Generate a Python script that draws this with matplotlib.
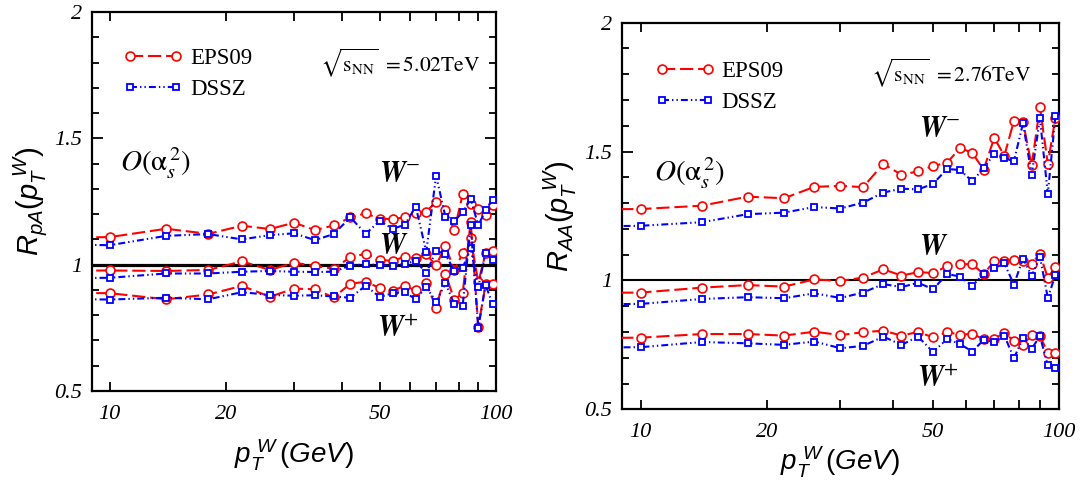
import matplotlib
matplotlib.use("Agg")
import matplotlib.pyplot as plt
from matplotlib.ticker import FixedLocator, NullFormatter, FixedFormatter, MultipleLocator

plt.rcParams['lines.scale_dashes'] = False
plt.rcParams['mathtext.fontset'] = 'custom'
plt.rcParams['mathtext.rm'] = 'Liberation Sans'
plt.rcParams['mathtext.it'] = 'Liberation Sans:italic'
plt.rcParams['mathtext.bf'] = 'Liberation Sans:bold'

# ---------------- data ----------------
pt_W = [6, 10, 14, 18, 22, 26, 30, 34, 38, 42, 46, 50, 54, 58, 62, 66, 70, 74, 78, 82, 86, 90, 94, 98]

# p+Pb, sqrt(s_NN) = 5.02 TeV
pA_Wm_EPS09 = [1.105, 1.109, 1.142, 1.122, 1.154, 1.141, 1.166, 1.137, 1.155, 1.187, 1.203, 1.181, 1.181,
               1.187, 1.204, 1.210, 1.248, 1.218, 1.136, 1.278, 1.239, 1.221, 1.195, 1.236]
pA_Wm_DSSZ = [1.082, 1.077, 1.114, 1.121, 1.100, 1.117, 1.124, 1.097, 1.121, 1.187, 1.122, 1.173, 1.142,
              1.157, 1.230, 1.051, 1.352, 1.189, 1.173, 1.207, 1.259, 1.156, 1.215, 1.257]
pA_W_EPS09 = [0.975, 0.977, 0.975, 0.979, 1.013, 0.979, 1.008, 0.995, 0.984, 1.030, 1.043, 1.019, 1.015,
              1.031, 1.025, 1.041, 0.997, 1.075, 0.977, 1.045, 1.104, 0.930, 1.045, 1.055]
pA_W_DSSZ = [0.945, 0.948, 0.965, 0.965, 0.972, 0.975, 0.972, 0.971, 0.972, 0.996, 1.002, 0.998, 0.995,
             1.003, 1.015, 0.966, 1.056, 1.041, 0.975, 0.988, 1.065, 0.910, 1.048, 1.019]
pA_Wp_EPS09 = [0.890, 0.887, 0.863, 0.882, 0.916, 0.873, 0.905, 0.903, 0.870, 0.925, 0.932, 0.908, 0.897,
               0.916, 0.898, 0.927, 0.830, 0.963, 0.862, 0.886, 1.170, 0.755, 0.922, 0.922]
pA_Wp_DSSZ = [0.865, 0.862, 0.869, 0.863, 0.891, 0.880, 0.877, 0.879, 0.874, 0.869, 0.917, 0.872, 0.887,
              0.890, 0.864, 0.911, 0.853, 0.926, 0.844, 0.837, 1.155, 0.750, 0.920, 0.843]

# Pb+Pb, sqrt(s_NN) = 2.76 TeV
AA_Wm_EPS09 = [1.275, 1.277, 1.290, 1.325, 1.319, 1.363, 1.367, 1.362, 1.452, 1.410, 1.423, 1.444, 1.457,
               1.514, 1.495, 1.430, 1.553, 1.484, 1.619, 1.615, 1.446, 1.674, 1.451, 1.632]
AA_Wm_DSSZ = [1.208, 1.212, 1.226, 1.257, 1.263, 1.285, 1.279, 1.302, 1.341, 1.356, 1.353, 1.375, 1.433,
              1.428, 1.385, 1.435, 1.492, 1.474, 1.463, 1.610, 1.408, 1.629, 1.336, 1.637]
AA_W_EPS09 = [0.950, 0.953, 0.972, 0.982, 0.976, 1.004, 0.998, 1.011, 1.043, 1.019, 1.032, 1.029, 1.055,
              1.063, 1.063, 1.025, 1.074, 1.077, 1.079, 1.075, 1.064, 1.104, 1.009, 1.053]
AA_W_DSSZ = [0.905, 0.909, 0.928, 0.935, 0.931, 0.950, 0.932, 0.953, 0.986, 0.974, 0.991, 0.966, 1.025,
             1.015, 0.979, 1.025, 1.047, 1.066, 0.984, 1.085, 1.017, 1.092, 0.932, 1.021]
AA_Wp_EPS09 = [0.775, 0.778, 0.792, 0.792, 0.786, 0.801, 0.788, 0.799, 0.805, 0.786, 0.800, 0.779, 0.800,
               0.789, 0.793, 0.772, 0.774, 0.796, 0.766, 0.750, 0.788, 0.785, 0.719, 0.719]
AA_Wp_DSSZ = [0.738, 0.741, 0.761, 0.756, 0.750, 0.763, 0.737, 0.746, 0.782, 0.750, 0.782, 0.722, 0.773,
              0.753, 0.724, 0.769, 0.762, 0.786, 0.698, 0.776, 0.735, 0.784, 0.670, 0.662]

legend_labels = ["EPS09", "DSSZ"]
x_tick_values = [10, 20, 50, 100]
x_tick_labels = ["10", "20", "50", "100"]
y_tick_values = [0.5, 1.0, 1.5, 2.0]
y_tick_labels = ["0.5", "1", "1.5", "2"]

# ---------------- styling ----------------
RED = '#ff0000'
BLUE = '#0000ff'
red_style = dict(color=RED, lw=1.5, dashes=(9.5, 3.5), marker='o', ms=6.4, mfc='white',
                 mec=RED, mew=1.2)
blue_style = dict(color=BLUE, lw=1.5, dashes=(5, 2.2, 1, 2.2, 1, 2.2), marker='s', ms=4.6,
                  mfc='white', mec=BLUE, mew=1.3)

tickfont = dict(family='Liberation Serif', style='italic', size=16)

fig = plt.figure(figsize=(10.81, 4.83), dpi=100)
axL = fig.add_axes([0.0851, 0.1905, 0.3737, 0.7847])
axR = fig.add_axes([0.5751, 0.1526, 0.4046, 0.8004])


def setup(ax, hline_lw):
    ax.set_xscale('log')
    ax.set_xlim(9, 100)
    ax.set_ylim(0.5, 2.0)
    ax.axhline(1.0, color='black', lw=hline_lw, zorder=1)
    ax.xaxis.set_major_locator(FixedLocator(x_tick_values))
    ax.xaxis.set_major_formatter(FixedFormatter(x_tick_labels))
    ax.xaxis.set_minor_locator(FixedLocator([30, 40, 60, 70, 80, 90]))
    ax.xaxis.set_minor_formatter(NullFormatter())
    ax.yaxis.set_major_locator(FixedLocator(y_tick_values))
    ax.yaxis.set_major_formatter(FixedFormatter(y_tick_labels))
    ax.yaxis.set_minor_locator(MultipleLocator(0.1))
    ax.tick_params(axis='both', which='both', direction='in', top=True, right=True, width=1.3)
    ax.tick_params(axis='y', which='major', length=8, pad=7)
    ax.tick_params(axis='y', which='minor', length=5)
    ax.tick_params(axis='x', which='both', length=6.5, pad=10)
    for lab in ax.get_xticklabels() + ax.get_yticklabels():
        lab.set_fontfamily(tickfont['family'])
        lab.set_fontstyle(tickfont['style'])
        lab.set_fontsize(tickfont['size'])
    for sp in ax.spines.values():
        sp.set_linewidth(1.6)


def draw(ax, series):
    handles = []
    for (ye, yd) in series:
        he, = ax.plot(pt_W, ye, zorder=3, **red_style)
        hd, = ax.plot(pt_W, yd, zorder=4, **blue_style)
        handles.append((he, hd))
    return handles[0]


setup(axL, 2.3)
setup(axR, 1.5)

hL = draw(axL, [(pA_Wm_EPS09, pA_Wm_DSSZ), (pA_W_EPS09, pA_W_DSSZ), (pA_Wp_EPS09, pA_Wp_DSSZ)])
hR = draw(axR, [(AA_Wm_EPS09, AA_Wm_DSSZ), (AA_W_EPS09, AA_W_DSSZ), (AA_Wp_EPS09, AA_Wp_DSSZ)])

for ax, h, anchor in [(axL, hL, (0.055, 0.93)), (axR, hR, (0.055, 0.925))]:
    ax.legend(list(h), legend_labels, loc='upper left', bbox_to_anchor=anchor,
              frameon=False, numpoints=2, handlelength=2.6, handletextpad=0.3,
              labelspacing=0.45, borderaxespad=0,
              prop=dict(family='Liberation Serif', size=16.5))

# text annotations
serif = 'Liberation Serif'
axL.text(0.565, 0.866, r'$\sqrt{\mathrm{s_{NN}}}\ = 5.02\mathrm{TeV}$', transform=axL.transAxes,
         fontsize=15.5, math_fontfamily='stix', va='center', ha='left')
axR.text(0.57, 0.87, r'$\sqrt{\mathrm{s_{NN}}}\ = 2.76\mathrm{TeV}$', transform=axR.transAxes,
         fontsize=15.5, math_fontfamily='stix', va='center', ha='left')

axL.text(0.07, 0.6, r'$O(\mathrm{\alpha}_s^{\,2})$', transform=axL.transAxes, fontsize=21,
         math_fontfamily='stix', va='center', ha='left')
axR.text(0.075, 0.61, r'$O(\mathrm{\alpha}_s^{\,2})$', transform=axR.transAxes, fontsize=21,
         math_fontfamily='stix', va='center', ha='left')

for ax, pos in [(axL, [(0.71, 0.575, r'$\boldsymbol{W}^{-}$'), (0.71, 0.383, r'$\boldsymbol{W}$'),
                       (0.705, 0.166, r'$\boldsymbol{W}^{+}$')]),
                (axR, [(0.68, 0.727, r'$\boldsymbol{W}^{-}$'), (0.68, 0.42, r'$\boldsymbol{W}$'),
                       (0.675, 0.08, r'$\boldsymbol{W}^{+}$')])]:
    for (xx, yy, s) in pos:
        ax.text(xx, yy, s, transform=ax.transAxes, fontsize=21, family=serif,
                fontweight='bold', fontstyle='italic', math_fontfamily='stix',
                va='center', ha='left')

axL.set_ylabel(r'$R_{pA}(p_T^{\ W})$', fontsize=21, labelpad=4)
axR.set_ylabel(r'$R_{AA}(p_T^{\ W})$', fontsize=21, labelpad=4)
axL.set_xlabel(r'$p_T^{\ W}\,(GeV)$', fontsize=20, labelpad=10)
axR.set_xlabel(r'$p_T^{\ W}\,(GeV)$', fontsize=20, labelpad=2)

fig.savefig('out.png', dpi=100)
